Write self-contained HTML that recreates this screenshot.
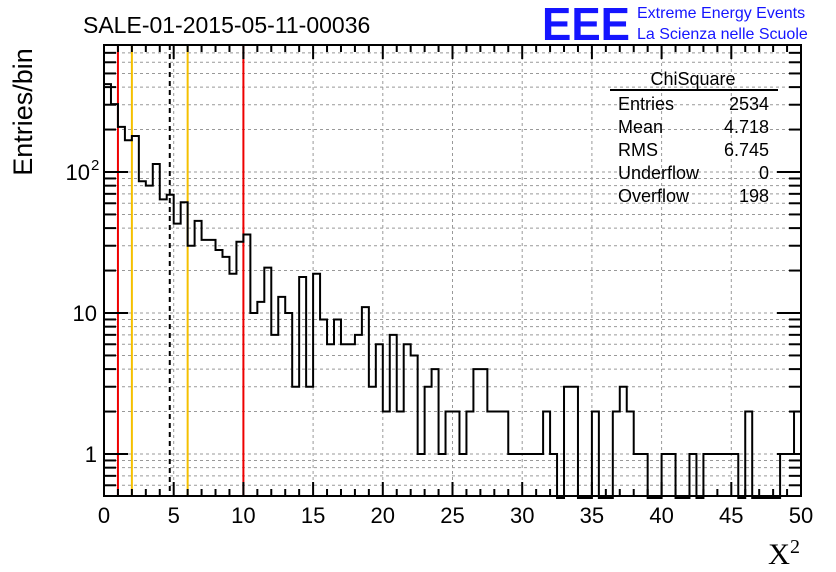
<!DOCTYPE html>
<html><head><meta charset="utf-8"><style>
body{margin:0;background:#fff;}
svg{display:block;font-family:"Liberation Sans",sans-serif;}
</style></head><body>
<svg id="c" width="836" height="572"></svg>
<script>
const counts=[420,303,209,168,180,86,80,114,64,69,43,61,30,45,33,33,28,25,19,32,36,10,12,21,7,13,10,3,18,3,19,9,6,9,6,6,7,11,3,6,2,7,2,6,5,1,3,4,1,2,2,1,2,4,4,2,2,2,1,1,1,1,1,2,1,0,3,3,0,0,2,0,0,2,3,2,1,1,0,0,1,1,0,0,1,0,1,1,1,1,1,0,2,0,0,0,0,1,1,2];
const xTicks=[0,5,10,15,20,25,30,35,40,45,50];
const yDecades=[1,10,100];
const yLabels=["1","10","10"];
const redLines=[1,10];
const orangeLines=[2,6];
const meanLine=[4.718];
const binW=0.5;
const L=104,R=801,T=45,B=496;
const X=v=>L+(v/50)*(R-L);
const Y=v=>454-141*Math.log10(v);
const yMin=0.5;
const NS="http://www.w3.org/2000/svg";
const svg=document.getElementById('c');
function mk(tag,attrs,parent){const e=document.createElementNS(NS,tag);for(const k in attrs)e.setAttribute(k,attrs[k]);(parent||svg).appendChild(e);return e;}
const grid=mk('g',{stroke:'#999','stroke-dasharray':'3,3','stroke-width':1});


xTicks.forEach(t=>{if(t>0&&t<50)mk('line',{x1:X(t),x2:X(t),y1:T,y2:B},grid);});
for(const d of [0.1,1,10,100]){for(let m=1;m<10;m++){const v=d*m;if(v>yMin&&Y(v)>T&&Y(v)<B)mk('line',{x1:L,x2:R,y1:Y(v),y2:Y(v)},grid);}}
redLines.forEach(v=>{const l=mk('line',{x1:X(v),x2:X(v),y1:T,y2:B,stroke:'#e00',"stroke-width":2});});
orangeLines.forEach(v=>{const l=mk('line',{x1:X(v),x2:X(v),y1:T,y2:B,stroke:'#f5c000',"stroke-width":2});});
meanLine.forEach(v=>{const l=mk('line',{x1:X(v),x2:X(v),y1:T,y2:B,stroke:'#000',"stroke-width":2,"stroke-dasharray":"5,4"});});
let d='';let prev=null;
counts.forEach((c,i)=>{const y=c>0?Y(c):B+2;const x0=X(i*binW),x1=X((i+1)*binW);
 if(prev===null)d+=`M${x0},${y}`;else d+=`L${x0},${y}`;d+=`L${x1},${y}`;prev=y;});
const h=mk('path',{d:d,fill:'none',stroke:'#000','stroke-width':2});


const fr=mk('rect',{x:L,y:T,width:R-L,height:B-T,fill:'none',stroke:'#000','stroke-width':2});


const tk=mk('g',{stroke:'#000','stroke-width':2});
for(let t=0;t<=50;t+=1){const big=t%5===0;const len=big?14:7;mk('line',{x1:X(t),x2:X(t),y1:B,y2:B-len},tk);mk('line',{x1:X(t),x2:X(t),y1:T,y2:T+len},tk);}
for(const dd of [0.1,1,10,100]){for(let m=1;m<10;m++){const v=dd*m;const y=Y(v);if(v<yMin||y<T||y>B)continue;const len=m===1?24:12;mk('line',{x1:L,x2:L+len,y1:y,y2:y},tk);mk('line',{x1:R,x2:R-len,y1:y,y2:y},tk);}}
xTicks.forEach(t=>{const e=mk('text',{x:X(t),y:523,'font-size':22,'text-anchor':'middle'});e.textContent=t;});
yDecades.forEach((v,i)=>{const e=mk('text',{x:i===2?90:97,y:Y(v)+8,'font-size':22,'text-anchor':'end'});e.textContent=yLabels[i];
 if(i===2){const s=mk('text',{x:91,y:Y(v)-2,'font-size':15});s.textContent='2';}});
</script>
<svg width="836" height="572" style="position:absolute;left:0;top:0">
<text x="83" y="33" font-size="23" font-family="Liberation Sans,sans-serif">SALE-01-2015-05-11-00036</text>
<text x="542" y="40" font-size="46" font-weight="bold" fill="#1515ff" font-family="Liberation Sans,sans-serif" textLength="88" lengthAdjust="spacingAndGlyphs">EEE</text>
<text x="637" y="18" font-size="16" fill="#1515ff" font-family="Liberation Sans,sans-serif">Extreme Energy Events</text>
<text x="637" y="39" font-size="16" fill="#1515ff" font-family="Liberation Sans,sans-serif">La Scienza nelle Scuole</text>
<text transform="translate(32,112) rotate(-90)" font-size="27" text-anchor="middle" font-family="Liberation Sans,sans-serif">Entries/bin</text>
<text x="768" y="564" font-size="30" font-family="Liberation Serif,serif" textLength="22" lengthAdjust="spacingAndGlyphs">X</text>
<text x="790" y="553" font-size="20" font-family="Liberation Serif,serif">2</text>
<g font-family="Liberation Sans,sans-serif" font-size="18">
<text x="693" y="85" text-anchor="middle">ChiSquare</text>
<line x1="610" x2="778" y1="90" y2="90" stroke="#000" stroke-width="2"/>
<text x="618" y="110">Entries</text><text x="769" y="110" text-anchor="end">2534</text>
<text x="618" y="133">Mean</text><text x="769" y="133" text-anchor="end">4.718</text>
<text x="618" y="156">RMS</text><text x="769" y="156" text-anchor="end">6.745</text>
<text x="618" y="179">Underflow</text><text x="769" y="179" text-anchor="end">0</text>
<text x="618" y="202">Overflow</text><text x="769" y="202" text-anchor="end">198</text>
</g>
</svg>
</body></html>
